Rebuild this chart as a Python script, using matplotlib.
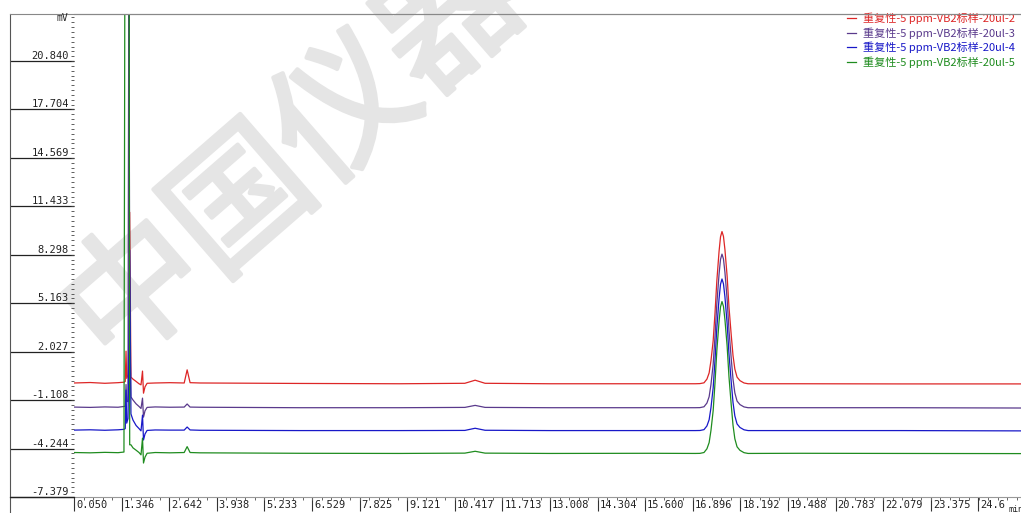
import numpy as np
import matplotlib
matplotlib.use("Agg")
import matplotlib.pyplot as plt
import matplotlib.patheffects as pe
from matplotlib import transforms
from matplotlib.lines import Line2D
from matplotlib.ticker import FixedLocator

plt.rcParams['font.family'] = ['Noto Sans CJK SC', 'DejaVu Sans']

# retention time (min), shared by all four runs
time_min = [0.05, 0.49, 0.89, 1.25, 1.41, 1.445, 1.466, 1.485, 1.52, 1.545,
            1.566, 1.60, 1.656, 1.74, 1.82, 1.874, 1.915, 1.942, 1.983, 2.04,
            2.26, 2.66, 3.05, 3.13, 3.21, 3.48, 6.2, 8.92, 10.69, 10.97,
            11.24, 13.01, 15.73, 16.96,
            17.09, 17.20, 17.28, 17.34, 17.39, 17.45, 17.50, 17.55, 17.61, 17.65,
            17.69, 17.73, 17.77, 17.83, 17.88, 17.94, 17.99, 18.04, 18.10, 18.18,
            18.29, 18.40,
            19.81, 22.54, 25.83]

# signal (mV) as displayed, overlay offsets included
run2_mv = [0.0, 0.03, -0.02, 0.02, 0.05, 0.1, 2.06, 0.3, 0.5, 3.0,
           11.05, 0.38, 0.25, 0.1, -0.05, -0.12, 0.77, -0.66, -0.25, -0.02,
           0.0, 0.02, 0.0, 0.85, 0.02, 0.0, -0.03, -0.05, -0.02, 0.18,
           -0.02, -0.05, -0.05, -0.05,
           -0.04, 0.01, 0.25, 0.65, 1.44, 2.73, 4.53, 6.62, 8.51, 9.46,
           9.80, 9.49, 8.64, 6.91, 4.93, 3.15, 1.78, 0.90, 0.38, 0.15,
           0.0, -0.05,
           -0.05, -0.06, -0.06]
run3_mv = [-1.56, -1.58, -1.55, -1.57, -1.52, -1.5, -0.1, -1.2, -1.2, 30.0,
           4.0, -0.9, -1.1, -1.35, -1.52, -1.65, -0.98, -2.21, -1.8, -1.58,
           -1.55, -1.57, -1.56, -1.36, -1.56, -1.57, -1.60, -1.60, -1.58, -1.45,
           -1.58, -1.60, -1.60, -1.60,
           -1.595, -1.54, -1.30, -0.89, -0.10, 1.21, 3.02, 5.13, 7.04, 8.00,
           8.34, 8.03, 7.17, 5.42, 3.42, 1.63, 0.25, -0.64, -1.17, -1.40,
           -1.55, -1.6,
           -1.60, -1.60, -1.62]
run4_mv = [-3.05, -3.03, -3.06, -3.03, -3.0, -2.95, -0.46, -2.6, -2.3, 2.0,
           8.59, -2.0, -2.4, -2.75, -2.95, -3.1, -2.08, -3.69, -3.3, -3.07,
           -3.04, -3.05, -3.05, -2.85, -3.04, -3.06, -3.08, -3.08, -3.07, -2.93,
           -3.06, -3.08, -3.08, -3.08,
           -3.075, -3.02, -2.78, -2.38, -1.60, -0.31, 1.48, 3.56, 5.45, 6.39,
           6.73, 6.42, 5.58, 3.85, 1.88, 0.11, -1.26, -2.13, -2.65, -2.88,
           -3.03, -3.08,
           -3.08, -3.08, -3.10]
run5_mv = [-4.50, -4.52, -4.49, -4.51, -4.47, 40.0, 40.0, 40.0, 40.0, 40.0,
           -4.0, -4.0, -4.2, -4.35, -4.5, -4.65, -3.57, -5.18, -4.8, -4.55,
           -4.50, -4.52, -4.50, -4.12, -4.50, -4.52, -4.55, -4.56, -4.54, -4.42,
           -4.54, -4.56, -4.55, -4.56,
           -4.555, -4.50, -4.26, -3.86, -3.07, -1.79, 0.01, 2.10, 3.98, 4.93,
           5.27, 4.96, 4.11, 2.39, 0.41, -1.37, -2.73, -3.61, -4.13, -4.36,
           -4.51, -4.56,
           -4.55, -4.56, -4.57]

run_names = ["重复性-5 ppm-VB2标样-20ul-2", "重复性-5 ppm-VB2标样-20ul-3",
             "重复性-5 ppm-VB2标样-20ul-4", "重复性-5 ppm-VB2标样-20ul-5"]
run_colors = ["#dd2626", "#5a3a8c", "#1818c8", "#1f8c1f"]

x_ticks = [0.050, 1.346, 2.642, 3.938, 5.233, 6.529, 7.825, 9.121, 10.417, 11.713,
           13.008, 14.304, 15.600, 16.896, 18.192, 19.488, 20.783, 22.079, 23.375, 24.671]
x_labels = ["0.050", "1.346", "2.642", "3.938", "5.233", "6.529", "7.825", "9.121",
            "10.417", "11.713", "13.008", "14.304", "15.600", "16.896", "18.192",
            "19.488", "20.783", "22.079", "23.375", "24.6"]
y_ticks = [-7.379, -4.244, -1.108, 2.027, 5.163, 8.298, 11.433, 14.569, 17.704, 20.840]
y_labels = ["-7.379", "-4.244", "-1.108", "2.027", "5.163", "8.298", "11.433",
            "14.569", "17.704", "20.840"]

W, H = 1021, 513
fig = plt.figure(figsize=(W / 100, H / 100), dpi=100)
ax = fig.add_axes([74 / W, 16 / H, 947 / W, 483 / H])
ax.set_xlim(0.05, 25.83)
ax.set_ylim(-7.379, 23.88)

for vals, name, col in zip([run2_mv, run3_mv, run4_mv, run5_mv], run_names, run_colors):
    ax.plot(time_min, vals, color=col, lw=0.9, label=name, zorder=2)

# watermark
ax.text(296 / W, 1 - 160 / H, "中国仪器", transform=fig.transFigure, rotation=41,
        fontsize=100, color="#e5e5e5", ha="center", va="center",
        zorder=0.5, clip_on=False,
        path_effects=[pe.withStroke(linewidth=3, foreground="#e5e5e5")])

for s in ["left", "right"]:
    ax.spines[s].set_visible(False)
ax.spines["top"].set_color("#888888")
ax.spines["bottom"].set_color("#999999")
for s in ["top", "bottom"]:
    ax.spines[s].set_linewidth(0.8)

# x ticks: long bars + small minor marks
ax.set_xticks(x_ticks)
step = x_ticks[1] - x_ticks[0]
ax.xaxis.set_minor_locator(FixedLocator(np.arange(x_ticks[0], 25.83, step / 5)))
ax.tick_params(axis="x", which="major", direction="out", length=10, width=0.8,
               color="#333333", labelbottom=False)
ax.tick_params(axis="x", which="minor", direction="out", length=2.2, width=0.7,
               color="#666666")

# y ticks: major ticks run across the label panel
ax.set_yticks(y_ticks)
ystep = y_ticks[1] - y_ticks[0]
ax.yaxis.set_minor_locator(FixedLocator(np.arange(y_ticks[0], 23.88, ystep / 10)))
ax.tick_params(axis="y", which="major", direction="out", length=46, width=0.9,
               color="#222222", labelleft=False)
ax.tick_params(axis="y", which="minor", direction="out", length=2.2, width=0.6,
               color="#444444")

mono = "DejaVu Sans Mono"
for v, s in zip(y_ticks, y_labels):
    ax.text(-5 / 947, v, s, transform=ax.get_yaxis_transform(), ha="right",
            va="bottom", fontsize=7.5, family=mono, color="#222222")

shift = transforms.ScaledTranslation(2 / 100, 0, fig.dpi_scale_trans)
for t, s in zip(x_ticks, x_labels):
    ax.text(t, -8 / 483, s, transform=ax.get_xaxis_transform() + shift, ha="left",
            va="center", fontsize=7.5, family=mono, color="#222222", clip_on=False)

fig.text(68 / W, 1 - 18 / H, "mV", ha="right", va="center", fontsize=7, family=mono,
         color="#222222")
fig.text(1008 / W, 1 - 509 / H, "min", ha="left", va="center", fontsize=6,
         family=mono, color="#222222")

# frame of the label panel
fig.add_artist(Line2D([10 / W, 10 / W], [0, 1 - 14 / H], color="#555555", lw=0.8))
fig.add_artist(Line2D([10 / W, 1], [1 - 14 / H, 1 - 14 / H], color="#888888", lw=0.8))
fig.add_artist(Line2D([10 / W, 74 / W], [16 / H, 16 / H], color="#222222", lw=0.9))

leg = ax.legend(loc="upper right", bbox_to_anchor=(1.0, 1.0 + 7 / 483), frameon=False,
                handlelength=0.8, handletextpad=0.7, labelspacing=0.28, fontsize=8.0,
                labelcolor="linecolor", borderaxespad=0.1)

fig.savefig("out.png", dpi=100)
